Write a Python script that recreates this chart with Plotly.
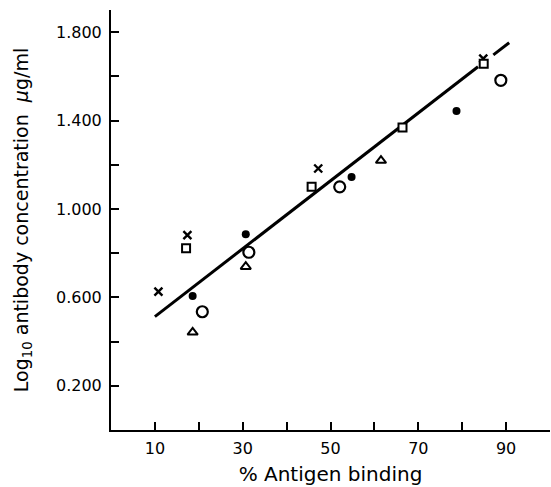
import plotly.graph_objects as go

# ---- data ----
cross_x = [10.8, 17.4, 47.2, 84.8]
cross_y = [0.626, 0.882, 1.183, 1.680]

square_x = [17.1, 45.7, 66.4, 84.9]
square_y = [0.822, 1.100, 1.368, 1.657]

dot_x = [18.6, 30.7, 54.8, 78.7]
dot_y = [0.606, 0.886, 1.145, 1.443]

ring_x = [20.8, 31.4, 52.1, 88.8]
ring_y = [0.535, 0.804, 1.100, 1.582]

tri_x = [18.6, 30.7, 61.5]
tri_y = [0.442, 0.739, 1.219]

fit_x = [10.0, 83.6, None, 87.1, 90.7]
fit_y = [0.513, 1.643, None, 1.697, 1.752]

x_ticks = [10, 30, 50, 70, 90]
x_labels = ["10", "30", "50", "70", "90"]
x_minor = [20, 40, 60, 80]
y_ticks = [0.2, 0.6, 1.0, 1.4, 1.8]
y_labels = ["0.200", "0.600", "1.000", "1.400", "1.800"]
y_minor = [0.4, 0.8, 1.2, 1.6]

x_title = "% Antigen binding"
y_title = "Log<sub>10</sub> antibody concentration  <i>μ</i>g/ml"

FONT = "DejaVu Sans"

fig = go.Figure()
fig.add_trace(go.Scatter(x=fit_x, y=fit_y, mode="lines",
                         line=dict(color="black", width=3), connectgaps=False))
fig.add_trace(go.Scatter(x=cross_x, y=cross_y, mode="markers",
                         marker=dict(symbol="x-thin", size=8, color="black",
                                     line=dict(color="black", width=2.4))))
fig.add_trace(go.Scatter(x=square_x, y=square_y, mode="markers",
                         marker=dict(symbol="square", size=8, color="white",
                                     line=dict(color="black", width=2))))
fig.add_trace(go.Scatter(x=dot_x, y=dot_y, mode="markers",
                         marker=dict(symbol="circle", size=8, color="black",
                                     line=dict(width=0))))
fig.add_trace(go.Scatter(x=ring_x, y=ring_y, mode="markers",
                         marker=dict(symbol="circle", size=11, color="white",
                                     line=dict(color="black", width=2.2))))
fig.add_trace(go.Scatter(x=tri_x, y=tri_y, mode="markers",
                         marker=dict(symbol="triangle-up", size=9, color="white",
                                     line=dict(color="black", width=2))))

minor_style = dict(ticks="inside", ticklen=8, tickwidth=2, tickcolor="black",
                   showgrid=False)

fig.update_layout(
    width=551, height=487,
    margin=dict(l=111, r=1, t=10, b=57),
    paper_bgcolor="white", plot_bgcolor="white",
    showlegend=False,
    font=dict(family=FONT, color="black", size=14),
    xaxis=dict(range=[0, 100], tickmode="array", tickvals=x_ticks, ticktext=x_labels,
               ticks="inside", ticklen=8, tickwidth=2, tickcolor="black",
               minor=dict(tickmode="array", tickvals=x_minor, **minor_style),
               showline=True, linewidth=2, linecolor="black",
               showgrid=False, zeroline=False,
               tickfont=dict(family=FONT, size=16), ticklabelstandoff=3,
               title=dict(text=x_title, font=dict(family=FONT, size=20), standoff=10),
               automargin=False),
    yaxis=dict(range=[0, 1.9], tickmode="array", tickvals=y_ticks, ticktext=y_labels,
               ticks="inside", ticklen=8, tickwidth=2, tickcolor="black",
               minor=dict(tickmode="array", tickvals=y_minor, **minor_style),
               showline=True, linewidth=2, linecolor="black",
               showgrid=False, zeroline=False,
               tickfont=dict(family=FONT, size=16), ticklabelstandoff=4,
               title=dict(text=y_title, font=dict(family=FONT, size=19), standoff=22),
               automargin=False),
)

fig.write_html("out.html")
